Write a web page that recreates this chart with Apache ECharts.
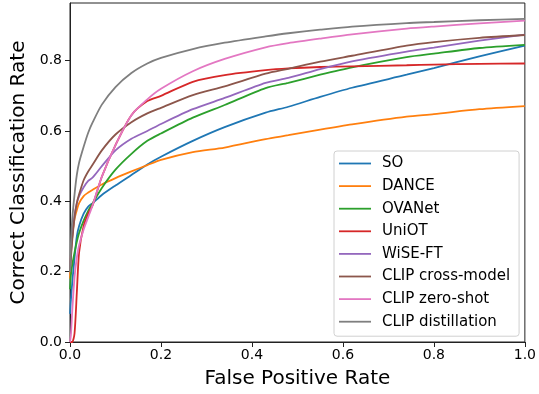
<!DOCTYPE html>
<html>
<head>
<meta charset="utf-8">
<script src="https://cdn.jsdelivr.net/npm/echarts@6/dist/echarts.min.js"></script>
<style>
  html, body { margin: 0; padding: 0; background: #fff; }
  #chart { width: 539px; height: 394px; }
</style>
</head>
<body>
<div id="chart"></div>
<script>
// false positive rate grid shared by all curves
const fpr = [0, 0.002, 0.005, 0.01, 0.015, 0.02, 0.03, 0.04, 0.05, 0.07, 0.1, 0.135, 0.17, 0.2,
  0.27, 0.34, 0.43, 0.48, 0.55, 0.62, 0.74, 0.8, 0.9, 1.0];

const methods = ["SO", "DANCE", "OVANet", "UniOT", "WiSE-FT", "CLIP cross-model", "CLIP zero-shot", "CLIP distillation"];

const soRate = [0.08, 0.12, 0.17, 0.24, 0.30, 0.33, 0.365, 0.385, 0.395, 0.418, 0.445, 0.475, 0.505, 0.527,
  0.572, 0.611, 0.652, 0.669, 0.697, 0.723, 0.760, 0.779, 0.812, 0.843];
const danceRate = [0.18, 0.25, 0.30, 0.35, 0.375, 0.395, 0.415, 0.425, 0.433, 0.448, 0.466, 0.485, 0.503, 0.518,
  0.540, 0.553, 0.577, 0.588, 0.604, 0.619, 0.641, 0.648, 0.662, 0.671];
const ovanetRate = [0.15, 0.19, 0.22, 0.255, 0.285, 0.31, 0.345, 0.373, 0.395, 0.438, 0.49, 0.535, 0.572, 0.593,
  0.638, 0.674, 0.722, 0.737, 0.760, 0.781, 0.810, 0.820, 0.836, 0.845];
const uniotRate = [0, 0, 0, 0.025, 0.14, 0.255, 0.33, 0.365, 0.39, 0.47, 0.56, 0.645, 0.685, 0.700,
  0.740, 0.759, 0.773, 0.778, 0.782, 0.784, 0.787, 0.789, 0.791, 0.792];
const wiseRate = [0.20, 0.25, 0.30, 0.36, 0.395, 0.415, 0.44, 0.458, 0.468, 0.50, 0.545, 0.578, 0.60, 0.620,
  0.662, 0.694, 0.737, 0.751, 0.776, 0.798, 0.826, 0.837, 0.857, 0.874];
const crossRate = [0.20, 0.24, 0.29, 0.355, 0.395, 0.42, 0.46, 0.485, 0.505, 0.545, 0.59, 0.625, 0.650, 0.666,
  0.702, 0.727, 0.763, 0.777, 0.797, 0.814, 0.843, 0.853, 0.865, 0.873];
const zeroShotRate = [0, 0.02, 0.09, 0.185, 0.24, 0.275, 0.32, 0.355, 0.39, 0.47, 0.56, 0.645, 0.69, 0.720,
  0.770, 0.805, 0.838, 0.850, 0.863, 0.875, 0.891, 0.897, 0.906, 0.914];
const distillRate = [0.20, 0.28, 0.35, 0.42, 0.475, 0.51, 0.555, 0.595, 0.625, 0.675, 0.725, 0.765, 0.792, 0.808,
  0.833, 0.851, 0.869, 0.878, 0.888, 0.897, 0.907, 0.910, 0.915, 0.919];

const rates = [soRate, danceRate, ovanetRate, uniotRate, wiseRate, crossRate, zeroShotRate, distillRate];
const colors = ["#1f77b4", "#ff7f0e", "#2ca02c", "#d62728", "#9467bd", "#8c564b", "#e377c2", "#7f7f7f"];

const xTicks = [0, 0.2, 0.4, 0.6, 0.8, 1.0];
const yTicks = [0, 0.2, 0.4, 0.6, 0.8];

const font = "DejaVu Sans";
const chart = echarts.init(document.getElementById("chart"), undefined, { renderer: "canvas" });

chart.setOption({
  animation: false,
  color: colors,
  grid: {
    left: 70, right: 11, top: 3, bottom: 50,
    show: true, borderColor: "#222", borderWidth: 1, backgroundColor: "transparent",
  },
  xAxis: {
    type: "value",
    min: 0, max: 1, interval: 0.2,
    name: "False Positive Rate",
    nameLocation: "middle",
    nameGap: 27,
    nameTextStyle: { fontFamily: font, fontSize: 20, color: "#000" },
    splitLine: { show: false },
    axisLine: { show: true, lineStyle: { color: "#222", width: 1 } },
    axisTick: { show: true, length: 5, lineStyle: { color: "#222" }, customValues: xTicks },
    axisLabel: {
      fontFamily: font, fontSize: 14, color: "#000", margin: 6,
      customValues: xTicks,
      formatter: (v) => v.toFixed(1),
    },
  },
  yAxis: {
    type: "value",
    min: 0, max: 0.964, interval: 0.2,
    name: "Correct Classification Rate",
    nameLocation: "middle",
    nameGap: 36,
    nameTextStyle: { fontFamily: font, fontSize: 20, color: "#000" },
    splitLine: { show: false },
    axisLine: { show: true, lineStyle: { color: "#222", width: 1 } },
    axisTick: { show: true, length: 5, lineStyle: { color: "#222" }, customValues: yTicks },
    axisLabel: {
      fontFamily: font, fontSize: 14, color: "#000", margin: 8,
      customValues: yTicks,
      formatter: (v) => v.toFixed(1),
    },
  },
  legend: {
    orient: "vertical",
    left: 334, top: 151,
    padding: [5, 9, 7, 5],
    icon: "path://M0,0H32V1.8H0Z",
    itemWidth: 32, itemHeight: 15, itemGap: 7.6,
    backgroundColor: "rgba(255,255,255,0.85)",
    borderColor: "#d0d0d0", borderWidth: 1, borderRadius: 3,
    textStyle: { fontFamily: font, fontSize: 15, color: "#000", padding: [0, 0, 0, 6] },
    data: methods,
  },
  series: methods.map((name, i) => ({
    name,
    type: "line",
    symbol: "none",
    smooth: 0.25,
    lineStyle: { width: 1.8 },
    data: fpr.map((x, j) => [x, rates[i][j]]),
  })),
});
</script>
</body>
</html>
